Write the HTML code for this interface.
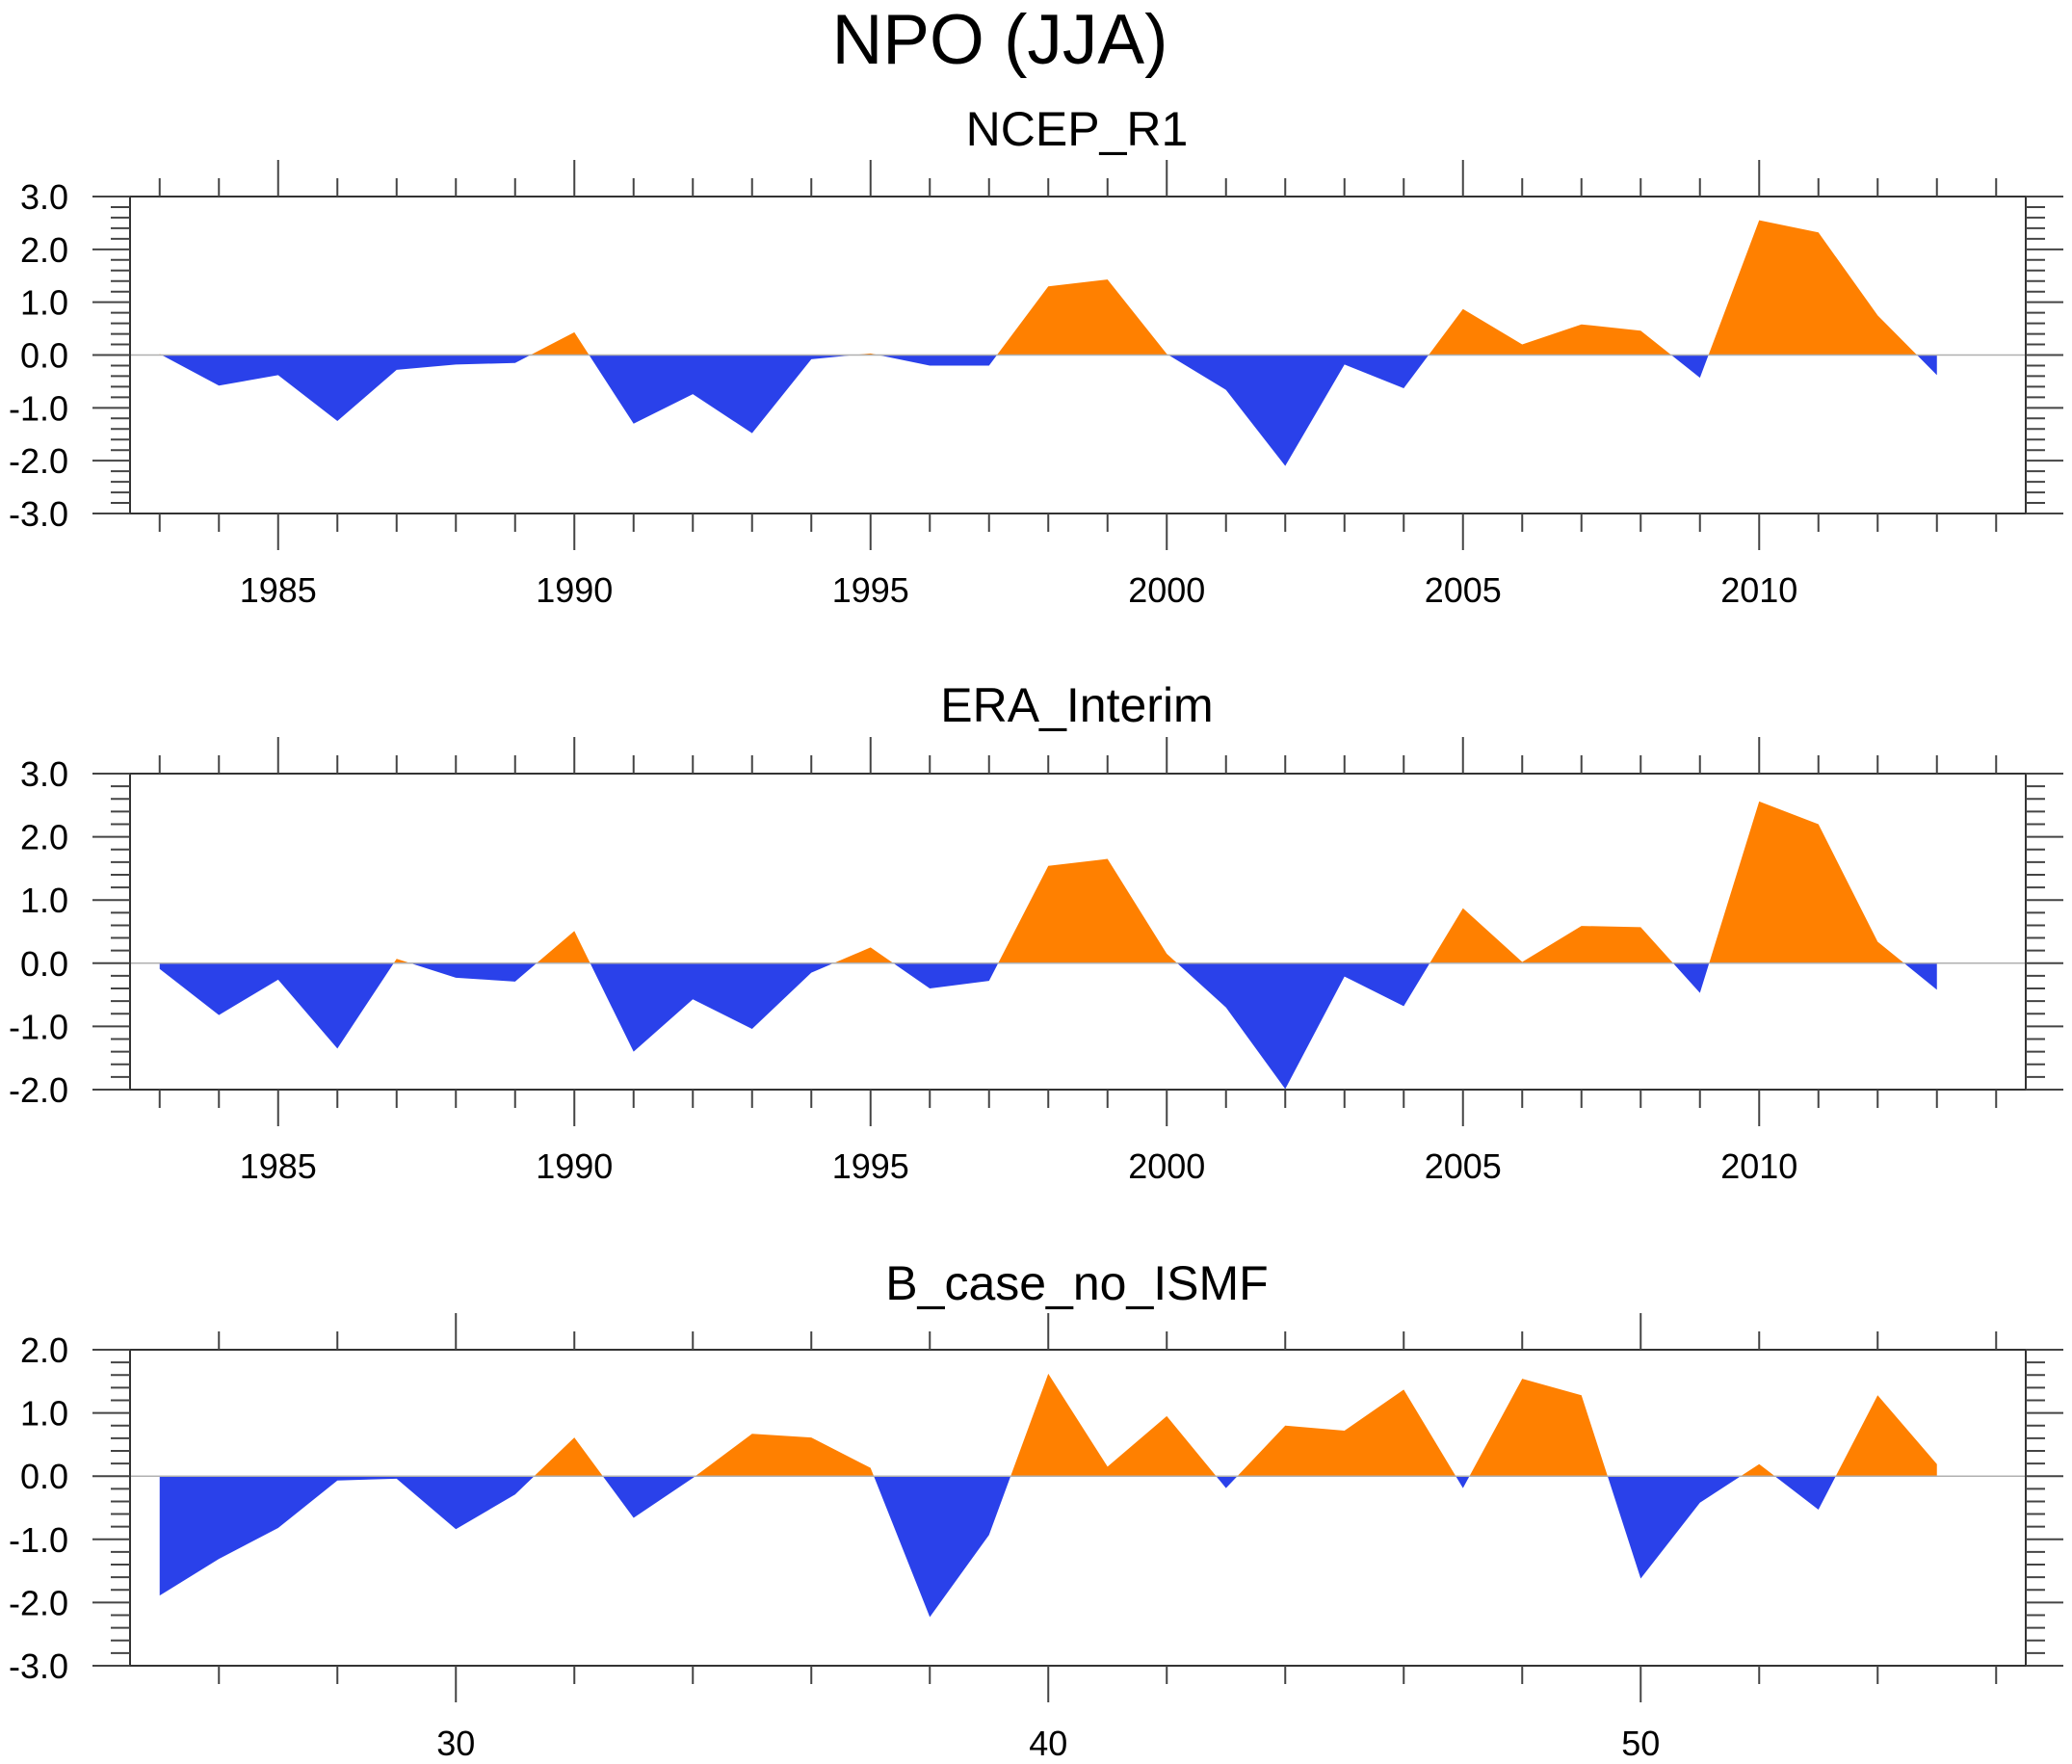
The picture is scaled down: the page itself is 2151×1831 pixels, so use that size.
<!DOCTYPE html>
<html><head><meta charset="utf-8"><style>
html,body{margin:0;padding:0;background:#fff;}
svg{display:block;font-family:"Liberation Sans",sans-serif;}
</style></head><body>
<svg id="fig" width="2151" height="1831" viewBox="0 0 2151 1831" xmlns="http://www.w3.org/2000/svg">
<text x="1038" y="66" font-size="73" text-anchor="middle">NPO (JJA)</text>
</svg>
<script>
const yearsA = [1983,1984,1985,1986,1987,1988,1989,1990,1991,1992,1993,1994,1995,1996,1997,1998,1999,2000,2001,2002,2003,2004,2005,2006,2007,2008,2009,2010,2011,2012,2013];
const ncepValues = [0.02,-0.58,-0.38,-1.25,-0.28,-0.18,-0.15,0.43,-1.3,-0.74,-1.48,-0.08,0.03,-0.2,-0.2,1.3,1.43,0.02,-0.66,-2.1,-0.18,-0.63,0.87,0.2,0.58,0.46,-0.43,2.55,2.32,0.75,-0.38];
const eraValues = [-0.09,-0.82,-0.26,-1.35,0.07,-0.23,-0.29,0.51,-1.4,-0.57,-1.04,-0.15,0.25,-0.4,-0.28,1.54,1.65,0.15,-0.7,-1.99,-0.21,-0.68,0.87,0.02,0.59,0.57,-0.47,2.56,2.2,0.34,-0.42];
const modelYears = [25,26,27,28,29,30,31,32,33,34,35,36,37,38,39,40,41,42,43,44,45,46,47,48,49,50,51,52,53,54,55];
const modelValues = [-1.89,-1.31,-0.82,-0.07,-0.04,-0.84,-0.29,0.61,-0.66,-0.03,0.67,0.61,0.13,-2.23,-0.93,1.62,0.15,0.95,-0.19,0.8,0.72,1.37,-0.19,1.54,1.28,-1.62,-0.42,0.19,-0.53,1.28,0.19];
const yearTickLabels = ["1985","1990","1995","2000","2005","2010"];
const modelTickLabels = ["30","40","50"];

const NS="http://www.w3.org/2000/svg";
const svg=document.getElementById('fig');
function mk(tag,attrs,parent){const e=document.createElementNS(NS,tag);for(const k in attrs)e.setAttribute(k,attrs[k]);(parent||svg).appendChild(e);return e;}

const L=135,R=2103;
const panels=[
 {name:'ncep',title:'NCEP_R1',titleY:151,top:204,bot:533,ymin:-3,ymax:3,xmin:1982.5,xmax:2014.5,xs:yearsA,vals:ncepValues,minorStart:1983,minorEnd:2014,minorStep:1,majorStep:5,labels:yearTickLabels,labelY:625},
 {name:'era',title:'ERA_Interim',titleY:749,top:803,bot:1131,ymin:-2,ymax:3,xmin:1982.5,xmax:2014.5,xs:yearsA,vals:eraValues,minorStart:1983,minorEnd:2014,minorStep:1,majorStep:5,labels:yearTickLabels,labelY:1223},
 {name:'model',title:'B_case_no_ISMF',titleY:1349,top:1401,bot:1729,ymin:-3,ymax:2,xmin:24.5,xmax:56.5,xs:modelYears,vals:modelValues,minorStart:26,minorEnd:56,minorStep:2,majorStep:10,labels:modelTickLabels,labelY:1822}
];

panels.forEach((p,pi)=>{
  const g=mk('g',{});
  
  
  const X=v=>L+(v-p.xmin)/(p.xmax-p.xmin)*(R-L);
  const Y=v=>p.bot-(v-p.ymin)/(p.ymax-p.ymin)*(p.bot-p.top);
  const t=mk('text',{x:1118,y:p.titleY,'font-size':50,'text-anchor':'middle'},g);
  t.textContent=p.title;
  
  
  const y0=Y(0);
  const defs=mk('defs',{},g);
  const cpA=mk('clipPath',{id:'ca'+pi},defs); mk('rect',{x:L,y:p.top,width:R-L,height:y0-p.top},cpA);
  const cpB=mk('clipPath',{id:'cb'+pi},defs); mk('rect',{x:L,y:y0,width:R-L,height:p.bot-y0},cpB);
  let d='M'+X(p.xs[0])+','+y0;
  p.xs.forEach((x,i)=>{d+=' L'+X(x)+','+Y(p.vals[i]);});
  d+=' L'+X(p.xs[p.xs.length-1])+','+y0+' Z';
  const pa=mk('path',{d:d,fill:'#ff8000','clip-path':'url(#ca'+pi+')'},g);
  
  
  const pb=mk('path',{d:d,fill:'#2a41ea','clip-path':'url(#cb'+pi+')'},g);
  
  
  const zl=mk('line',{x1:L,x2:R,y1:y0,y2:y0,stroke:'#b0b0b0','stroke-width':1.5},g);
  
  
  const fr=mk('rect',{x:L,y:p.top,width:R-L,height:p.bot-p.top,fill:'none',stroke:'#333','stroke-width':2},g);
  
  
  let li=0;
  for(let v=p.minorStart;v<=p.minorEnd;v+=p.minorStep){
    const major=(v%p.majorStep===0);const x=X(v);const len=major?38:19;
    mk('line',{x1:x,x2:x,y1:p.top,y2:p.top-len,stroke:'#444','stroke-width':2},g);
    mk('line',{x1:x,x2:x,y1:p.bot,y2:p.bot+len,stroke:'#444','stroke-width':2},g);
    if(major&&li<p.labels.length){
      const tl=mk('text',{x:x,y:p.labelY,'font-size':36,'text-anchor':'middle'},g);
      tl.textContent=p.labels[li++];
      
      
    }
  }
  const n=Math.round((p.ymax-p.ymin)/0.2);
  for(let i=0;i<=n;i++){
    const v=p.ymin+i*0.2;const y=Y(v);const major=(i%5===0);const len=major?39:20;
    mk('line',{x1:L,x2:L-len,y1:y,y2:y,stroke:'#444','stroke-width':2},g);
    mk('line',{x1:R,x2:R+len,y1:y,y2:y,stroke:'#444','stroke-width':2},g);
    if(major){
      const yl=mk('text',{x:71,y:y+13,'font-size':36,'text-anchor':'end'},g);
      yl.textContent=(Math.round(v*10)/10).toFixed(1);
      
      
    }
  }
});
</script>
</body></html>
